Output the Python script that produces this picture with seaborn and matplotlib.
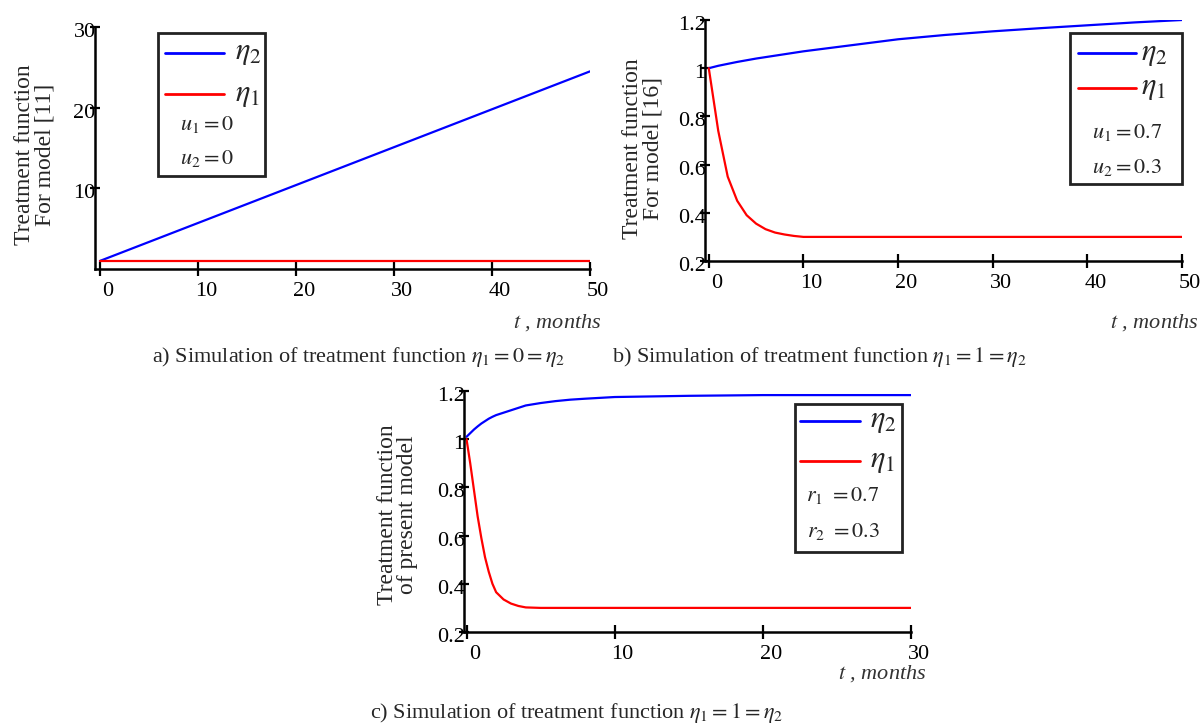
import numpy as np
import pandas as pd
import seaborn as sns
import matplotlib.pyplot as plt
from matplotlib.transforms import ScaledTranslation
from matplotlib.patches import Rectangle
from matplotlib.lines import Line2D

# ---------------- data ----------------
t_a = [0, 10, 20, 30, 40, 50]
eta2_a = [1.0, 5.7, 10.4, 15.1, 19.8, 24.5]
eta1_a = [1.0, 1.0, 1.0, 1.0, 1.0, 1.0]

t_b = [0, 1, 2, 3, 4, 5, 6, 7, 8, 9, 10, 15, 20, 25, 30, 35, 40, 45, 50]
eta2_b = [1.0, 1.01, 1.018, 1.026, 1.033, 1.04, 1.046, 1.052, 1.058, 1.064, 1.07,
          1.095, 1.12, 1.138, 1.153, 1.166, 1.178, 1.19, 1.2]
eta1_b = [1.0, 0.74, 0.55, 0.45, 0.39, 0.355, 0.332, 0.318, 0.31, 0.304, 0.30,
          0.30, 0.30, 0.30, 0.30, 0.30, 0.30, 0.30, 0.30]

t_c = [0, 0.25, 0.5, 0.75, 1, 1.25, 1.5, 1.75, 2, 2.5, 3, 3.5, 4, 5, 6, 7, 8, 10, 15, 20, 25, 30]
eta2_c = [1.01, 1.025, 1.04, 1.053, 1.065, 1.075, 1.085, 1.093, 1.10, 1.11, 1.12, 1.13,
          1.14, 1.15, 1.158, 1.164, 1.168, 1.175, 1.18, 1.183, 1.183, 1.183]
eta1_c = [1.0, 0.9, 0.79, 0.68, 0.59, 0.51, 0.45, 0.40, 0.365, 0.335, 0.318, 0.308,
          0.302, 0.30, 0.30, 0.30, 0.30, 0.30, 0.30, 0.30, 0.30, 0.30]

ylabels = ["Treatment function\nFor model [11]",
           "Treatment function\nFor model [16]",
           "Treatment function\nof present model"]
captions = [r"a) Simulation of treatment function $\eta_1=0=\eta_2$",
            r"b) Simulation of treatment function $\eta_1=1=\eta_2$",
            r"c) Simulation of treatment function $\eta_1=1=\eta_2$"]
params = [[r"$u_1=0$", r"$u_2=0$"],
          [r"$u_1=0.7$", r"$u_2=0.3$"],
          [r"$r_1\ =0.7$", r"$r_2\ =0.3$"]]

# ---------------- style ----------------
sns.set_style("ticks")
plt.rcParams['font.family'] = ['Liberation Serif', 'DejaVu Serif']
plt.rcParams['mathtext.fontset'] = 'stix'

W, H = 1202, 727
fig = plt.figure(figsize=(W / 100, H / 100), dpi=100)


def px_axes(l, r, t, b):
    return fig.add_axes([l / W, 1 - b / H, (r - l) / W, (b - t) / H])


palette = {"eta2": "#0000FF", "eta1": "#FF0000"}

specs = [
    dict(box=(95, 590, 27, 269), t=t_a, e2=eta2_a, e1=eta1_a, xlim=(-0.5, 50), ylim=(0, 30),
         xticks=[0, 10, 20, 30, 40, 50], yticks=[10, 20, 30], ytl=["10", "20", "30"],
         ylab=(-0.122, 0.471), leg=(0.127, 0.343, 0.384, 0.975),
         lines=(0.141, 0.261, 0.283, 0.893, 0.723), pars=(0.226, 0.599, 0.455),
         tlab=(601, 323), cap=(152, 357)),
    dict(box=(705, 1182, 20, 261), t=t_b, e2=eta2_b, e1=eta1_b, xlim=(-0.4, 50), ylim=(0.2, 1.2),
         xticks=[0, 10, 20, 30, 40, 50], yticks=[0.2, 0.4, 0.6, 0.8, 1.0, 1.2],
         ytl=["0.2", "0.4", "0.6", "0.8", "1", "1.2"],
         ylab=(-0.13, 0.465), leg=(0.765, 1.0, 0.32, 0.946),
         lines=(0.782, 0.904, 0.914, 0.863, 0.718), pars=(0.885, 0.535, 0.39),
         tlab=(1198, 323), cap=(612, 357)),
    dict(box=(464, 911, 391, 632), t=t_c, e2=eta2_c, e1=eta1_c, xlim=(-0.17, 30), ylim=(0.2, 1.2),
         xticks=[0, 10, 20, 30], yticks=[0.2, 0.4, 0.6, 0.8, 1.0, 1.2],
         ytl=["0.2", "0.4", "0.6", "0.8", "1", "1.2"],
         ylab=(-0.148, 0.485), leg=(0.740, 0.980, 0.332, 0.946),
         lines=(0.752, 0.886, 0.908, 0.876, 0.71), pars=(0.848, 0.568, 0.415),
         tlab=(926, 674), cap=(370, 713)),
]

FS = 16
for i, s in enumerate(specs):
    ax = px_axes(*s["box"])
    df = pd.DataFrame({
        "t": list(s["t"]) * 2,
        "value": list(s["e2"]) + list(s["e1"]),
        "series": ["eta2"] * len(s["t"]) + ["eta1"] * len(s["t"]),
    })
    sns.lineplot(data=df, x="t", y="value", hue="series", palette=palette,
                 estimator=None, legend=False, linewidth=1.6, ax=ax)
    ax.set_xlim(*s["xlim"])
    ax.set_ylim(*s["ylim"])
    ax.set_xticks(s["xticks"])
    ax.set_xticklabels([str(v) for v in s["xticks"]])
    ax.set_yticks(s["yticks"])
    ax.set_yticklabels(s["ytl"])
    ax.set_xlabel("")
    ax.set_ylabel("")
    sns.despine(ax=ax)
    for sp in ["left", "bottom"]:
        ax.spines[sp].set_linewidth(1.8)
        ax.spines[sp].set_color("black")
    ax.tick_params(axis="x", direction="inout", length=10, width=1.6, labelsize=FS,
                   pad=4.5, bottom=True, colors="black")
    ax.tick_params(axis="y", direction="inout", length=7, width=1.6, labelsize=FS,
                   pad=-4, left=True, colors="black")
    offx = ScaledTranslation(8 / 100, 0, fig.dpi_scale_trans)
    for lab in ax.get_xticklabels():
        lab.set_transform(lab.get_transform() + offx)
    offy = ScaledTranslation(0, -3 / 100, fig.dpi_scale_trans)
    for lab in ax.get_yticklabels():
        lab.set_transform(lab.get_transform() + offy)
    ax.patch.set_alpha(0)

    # y label
    ax.text(s["ylab"][0], s["ylab"][1], ylabels[i], transform=ax.transAxes,
            rotation=90, ha="center", va="center", multialignment="center",
            fontsize=17, linespacing=0.95)

    # legend box (drawn to mimic the original layout)
    l, r, b, t = s["leg"]
    ax.add_patch(Rectangle((l, b), r - l, t - b, transform=ax.transAxes, fill=False,
                           edgecolor="#222222", linewidth=2, clip_on=False, zorder=5))
    x0, x1, xt, y2, y1 = s["lines"]
    ax.add_line(Line2D([x0, x1], [y2, y2], transform=ax.transAxes, color=palette["eta2"],
                       linewidth=2, clip_on=False))
    ax.add_line(Line2D([x0, x1], [y1, y1], transform=ax.transAxes, color=palette["eta1"],
                       linewidth=2, clip_on=False))
    ax.text(xt, y2, r"$\eta_2$", transform=ax.transAxes, fontsize=22, ha="left", va="center")
    ax.text(xt, y1, r"$\eta_1$", transform=ax.transAxes, fontsize=22, ha="left", va="center")
    px, py1, py2 = s["pars"]
    ax.text(px, py1, params[i][0], transform=ax.transAxes, fontsize=16, ha="center", va="center")
    ax.text(px, py2, params[i][1], transform=ax.transAxes, fontsize=16, ha="center", va="center")

    # x label and caption
    fig.text(s["tlab"][0] / W, 1 - s["tlab"][1] / H, r"$t$ , months", fontsize=FS,
             style="italic", ha="right", va="center", color="#333333")
    fig.text(s["cap"][0] / W, 1 - s["cap"][1] / H, captions[i], fontsize=FS,
             ha="left", va="center")

fig.savefig("out.png", dpi=100)
